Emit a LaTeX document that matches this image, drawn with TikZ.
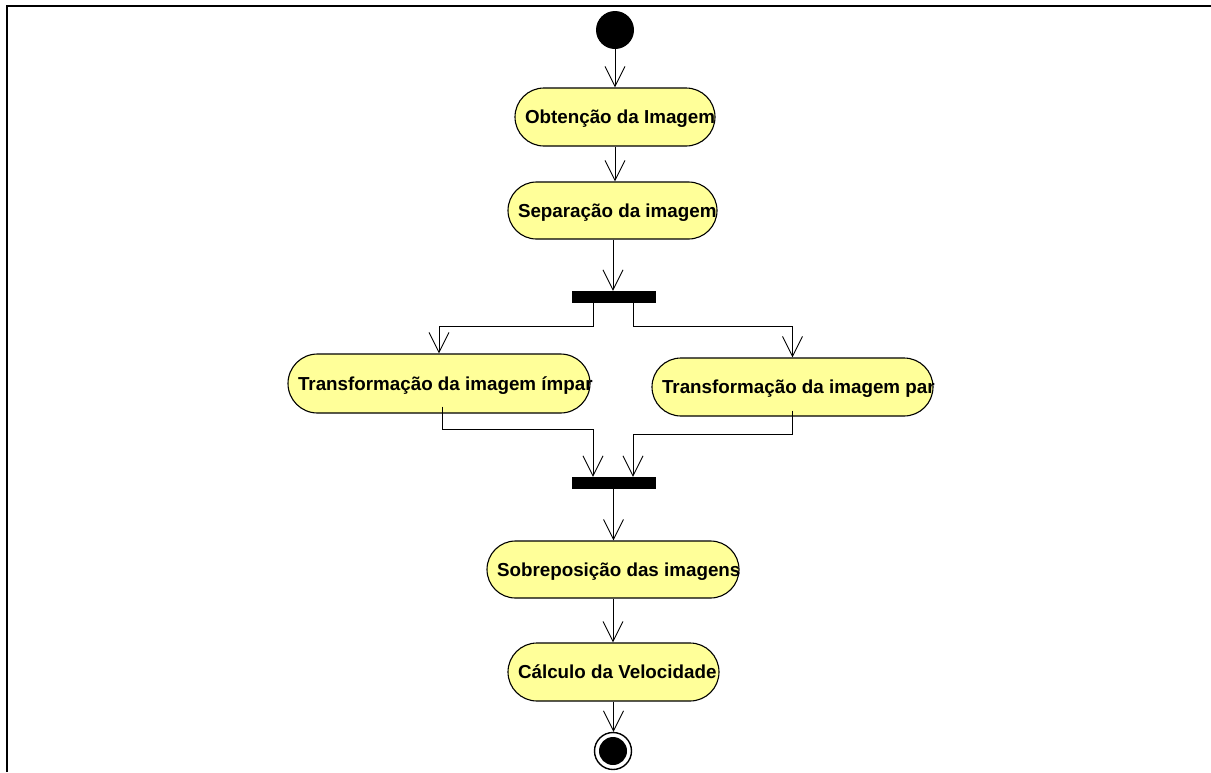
\documentclass[tikz,border=0pt]{standalone}
\usepackage{fontspec}
\setmainfont{Liberation Sans}
\usetikzlibrary{arrows.meta,calc}

\definecolor{actfill}{RGB}{255,255,153}

\tikzset{
  activity/.style={draw=black, line width=1.1pt, fill=actfill,
    rectangle, rounded corners=#1, inner xsep=10pt, inner ysep=0pt,
    text height=13.4pt, text depth=0pt, font=\fontsize{18.8}{20}\selectfont\bfseries},
  flow/.style={draw=black, line width=0.9pt,
    -{Straight Barb[length=20pt,width=20pt,line width=0.9pt]}},
  syncbar/.style={draw=black, fill=black, rectangle, inner sep=0pt,
    minimum width=83pt, minimum height=11pt},
  initial/.style={circle, fill=black, inner sep=0pt, minimum size=38pt},
}

% label set left-aligned inside a box of the given width
\newcommand{\actlabel}[2]{\makebox[#1][l]{#2}}

\begin{document}
\begin{tikzpicture}[x=1pt,y=-1pt]
  \useasboundingbox (0,0) rectangle (1211,772);

  % outer frame
  \draw[line width=2pt] (7,772) -- (7,6) -- (1211,6);

  % states
  \node[initial] (start) at (615,30) {};

  \node[activity=29pt, minimum height=58pt] (obt) at (615,117)
    {\actlabel{180pt}{Obtenção da Imagem}};
  \node[activity=28.5pt, minimum height=57pt] (sep) at (612.5,210.5)
    {\actlabel{189pt}{Separação da imagem}};

  \node[syncbar] (fork) at (613.5,296.5) {};

  \node[activity=29.5pt, minimum height=59pt] (timpar) at (439,383.5)
    {\actlabel{282pt}{Transformação da imagem ímpar}};
  \node[activity=29pt, minimum height=58pt] (tpar) at (792.5,387)
    {\actlabel{261pt}{Transformação da imagem par}};

  \node[syncbar] (join) at (613.5,482.5) {};

  \node[activity=28.5pt, minimum height=57pt] (sob) at (613,569.5)
    {\actlabel{232pt}{Sobreposição das imagens}};
  \node[activity=29pt, minimum height=58pt] (calc) at (613.5,672)
    {\actlabel{191pt}{Cálculo da Velocidade}};

  \node[circle, draw=black, line width=1.4pt, fill=white, inner sep=0pt,
        minimum size=37pt] (final) at (613,751) {};
  \node[circle, fill=black, inner sep=0pt, minimum size=28pt] (finaldot) at (final) {};

  % transitions
  \draw[flow] (start.south) -- (start.south |- obt.north);
  \draw[flow] (obt.south) -- (obt.south |- sep.north);
  \draw[flow] ([xshift=0.5pt]sep.south) -- ([xshift=0.5pt]sep.south |- fork.north);

  \draw[flow] ([xshift=-20.5pt]fork.south) -- ++(0,24) -| (timpar.north);
  \draw[flow] ([xshift=19.5pt]fork.south) -- ++(0,24) -| (tpar.north);

  \draw[flow] ([xshift=3pt,yshift=7pt]timpar.south) -- ++(0,23)
    -| ([xshift=-20.5pt]join.north);
  \draw[flow] ([yshift=6pt]tpar.south) -- ++(0,24)
    -| ([xshift=19.5pt]join.north);

  \draw[flow] (join.south) -- (join.south |- sob.north);
  \draw[flow] (sob.south) -- (sob.south |- calc.north);
  \draw[flow] (calc.south) -- (calc.south |- final.north);
\end{tikzpicture}
\end{document}
